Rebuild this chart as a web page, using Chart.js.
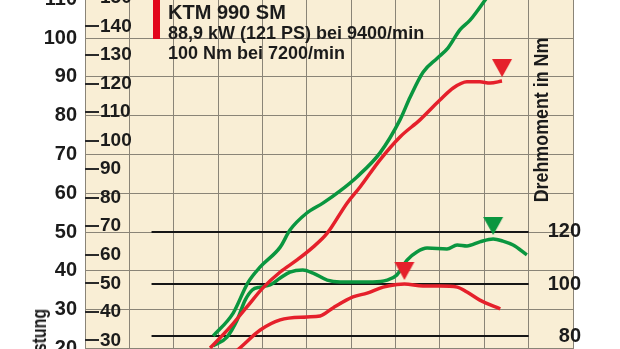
<!DOCTYPE html>
<html>
<head>
<meta charset="utf-8">
<script src="https://cdn.jsdelivr.net/npm/chart.js@4.4.1/dist/chart.umd.min.js"></script>
<style>
    html, body { margin: 0; padding: 0; background: #fff; overflow: hidden; }
    body { width: 620px; height: 349px; position: relative; color: #1b1b1b; font-weight: bold; }
    #wrap { position: absolute; left: 0; top: -20px; width: 620px; height: 408px; }
    .txt { position: absolute; white-space: nowrap; font-family: "Liberation Sans", Arial, sans-serif; }
    .vert { position: absolute; white-space: nowrap; font-family: "Liberation Sans", Arial, sans-serif; font-size: 21px; text-align: center; }
</style>
</head>
<body>
<div id="wrap"><canvas id="chart"></canvas></div>

<!-- legend -->
<div style="position:absolute; left:153px; top:0; width:7px; height:39px; background:#e2061b;"></div>
<div class="txt" style="left:168px; top:2px; font-size:20px; line-height:20px;">KTM 990 SM</div>
<div class="txt" style="left:168px; top:24px; font-size:18px; line-height:18px;">88,9 kW (121 PS) bei 9400/min</div>
<div class="txt" style="left:168px; top:44px; font-size:18px; line-height:18px;">100 Nm bei 7200/min</div>

<!-- axis titles -->
<div class="vert" style="left:441px; top:108px; width:200px; height:24px; line-height:24px; transform: rotate(-90deg) scaleX(0.85);">Drehmoment in Nm</div>
<div class="vert" style="left:-21px; top:330px; width:120px; height:24px; line-height:24px; transform: rotate(-90deg) scaleX(0.76);">Leistung</div>

<script>
// rpm range and axis ticks
const rpmMin = 0;
const rpmMax = 11000;
const kwTicks = [20, 30, 40, 50, 60, 70, 80, 90, 100, 110];
const psTicks = [20, 30, 40, 50, 60, 70, 80, 90, 100, 110, 120, 130, 140, 150];
const nmTicks = [80, 100, 120];

// visible window of the (cropped) diagram
const kwMin = 9.8, kwMax = 114.95;
const nmMin = 60, nmMax = 216.9;
const kwPerPs = 0.7355;

// KTM 990 SM (red)
const redPowerRpm = [2820, 3270, 3650, 4010, 4400, 4780, 5140, 5460, 5910, 6200, 6650, 7100, 7550, 8000, 8300, 8610, 8900, 9130, 9400];
const redPowerKw  = [20.1, 25.5, 30.7, 35.6, 39.7, 42.8, 46.1, 49.7, 57.5, 61.6, 68.6, 74.5, 78.9, 84.0, 87.1, 88.7, 88.7, 88.4, 88.9];
const redTorqueRpm = [3040, 3490, 3950, 4400, 5000, 5300, 5590, 6040, 6360, 6720, 7030, 7200, 7620, 8000, 8390, 8610, 8900, 9360];
const redTorqueNm  = [68.8, 75.4, 82.3, 86.2, 87.3, 87.7, 90.8, 95.0, 96.5, 98.8, 99.8, 100.0, 99.2, 99.2, 98.8, 96.9, 93.8, 90.4];

// comparison bike (green)
const greenPowerRpm = [2890, 3340, 3670, 3950, 4400, 4620, 5000, 5370, 5750, 6130, 6650, 7100, 7330, 7620, 7940, 8180, 8450, 8680, 9020, 9250];
const greenPowerKw  = [23.2, 29.1, 36.9, 41.0, 46.1, 50.5, 54.9, 57.5, 60.6, 64.2, 70.4, 78.9, 84.8, 91.2, 94.8, 97.4, 102.1, 104.6, 109.8, 113.5];
const greenTorqueRpm = [2890, 3200, 3430, 3610, 3770, 3950, 4170, 4400, 4620, 4910, 5140, 5460, 5750, 6490, 6810, 7030, 7260, 7480, 7710, 8160, 8390, 8610, 8900, 9200, 9420, 9650, 9960];
const greenTorqueNm  = [76.2, 79.6, 86.2, 93.8, 97.7, 98.8, 99.6, 102.3, 104.6, 105.4, 104.2, 101.5, 100.8, 100.8, 101.5, 103.5, 109.2, 112.3, 113.8, 113.5, 115.0, 114.6, 116.2, 117.3, 116.5, 115.0, 111.2];

// peak markers
const powerPeakRpm = [9400];
const powerPeakKw = [88.9];
const torquePeakRpm = [7200, 9200];
const torquePeakNm = [100, 117.3];

// torque reference lines span
const nmLineFrom = 1500;
const nmLineTo = 10000;

const RED = "#e5202b";
const GREEN = "#0a963f";
const FONT = '"Liberation Sans", Arial, sans-serif';

function points(xs, ys) {
    return xs.map((x, i) => ({ x: x, y: ys[i] }));
}

// downward triangle, apex a little above the centre of the image
function triangleImage(color) {
    const c = document.createElement("canvas");
    c.width = 22;
    c.height = 44;
    const g = c.getContext("2d");
    g.fillStyle = color;
    g.beginPath();
    g.moveTo(1, 0);
    g.lineTo(21, 0);
    g.lineTo(11, 18);
    g.closePath();
    g.fill();
    return c;
}

// fixed axis sizes, no extra label padding at the ends
function fixSize(width) {
    return s => {
        s.width = width;
        s.paddingTop = 0;
        s.paddingBottom = 0;
    };
}

const paperPlugin = {
    id: "paper",
    beforeDraw(chart) {
        const { ctx, chartArea: a } = chart;
        ctx.save();
        ctx.fillStyle = "#f9eed5";
        ctx.fillRect(a.left, a.top, a.right - a.left, a.bottom - a.top);
        ctx.restore();
    },
    beforeDatasetsDraw(chart) {
        const { ctx, chartArea: a, scales } = chart;
        ctx.save();
        // black torque lines
        ctx.strokeStyle = "#161616";
        ctx.lineWidth = 2;
        const x0 = scales.x.getPixelForValue(nmLineFrom);
        const x1 = scales.x.getPixelForValue(nmLineTo);
        nmTicks.forEach(v => {
            const y = Math.round(scales.nm.getPixelForValue(v));
            ctx.beginPath();
            ctx.moveTo(x0, y);
            ctx.lineTo(x1, y);
            ctx.stroke();
        });
        // short PS tick marks
        ctx.strokeStyle = "#2a2a2a";
        psTicks.forEach(v => {
            const y = Math.round(scales.ps.getPixelForValue(v));
            ctx.beginPath();
            ctx.moveTo(a.left, y);
            ctx.lineTo(a.left + 14, y);
            ctx.stroke();
        });
        ctx.restore();
    }
};

const lineStyle = {
    borderWidth: 3.5,
    pointRadius: 0,
    fill: false,
    cubicInterpolationMode: "monotone"
};

const ctx = document.getElementById("chart").getContext("2d");

new Chart(ctx, {
    type: "line",
    data: {
        datasets: [
            {
                label: "Leistungsspitze",
                data: points(powerPeakRpm, powerPeakKw),
                yAxisID: "kw",
                showLine: false,
                pointStyle: [triangleImage(RED)],
                pointRadius: 10
            },
            {
                label: "Drehmomentspitze",
                data: points(torquePeakRpm, torquePeakNm),
                yAxisID: "nm",
                showLine: false,
                pointStyle: [triangleImage(RED), triangleImage(GREEN)],
                pointRadius: 10
            },
            { ...lineStyle, label: "KTM 990 SM Leistung", data: points(redPowerRpm, redPowerKw), yAxisID: "kw", borderColor: RED },
            { ...lineStyle, label: "KTM 990 SM Drehmoment", data: points(redTorqueRpm, redTorqueNm), yAxisID: "nm", borderColor: RED },
            { ...lineStyle, label: "Vergleich Leistung", data: points(greenPowerRpm, greenPowerKw), yAxisID: "kw", borderColor: GREEN },
            { ...lineStyle, label: "Vergleich Drehmoment", data: points(greenTorqueRpm, greenTorqueNm), yAxisID: "nm", borderColor: GREEN }
        ]
    },
    options: {
        responsive: true,
        maintainAspectRatio: false,
        animation: false,
        events: [],
        layout: { autoPadding: false, padding: { left: 0, right: 47, top: 0, bottom: 0 } },
        plugins: {
            legend: { display: false },
            tooltip: { enabled: false }
        },
        scales: {
            x: {
                type: "linear",
                min: rpmMin,
                max: rpmMax,
                ticks: { display: false, stepSize: 1000 },
                grid: { color: "#8a8477", lineWidth: 1, drawTicks: false },
                border: { display: false },
                afterFit: s => { s.height = 0; s.paddingLeft = 0; s.paddingRight = 0; }
            },
            kw: {
                type: "linear",
                position: "left",
                weight: 1,
                min: kwMin,
                max: kwMax,
                afterBuildTicks: s => { s.ticks = kwTicks.map(v => ({ value: v })); },
                ticks: { color: "#1b1b1b", padding: 8, font: { family: FONT, size: 20, weight: "bold" } },
                grid: { color: "#8a8477", lineWidth: 1, drawTicks: false },
                border: { display: false },
                afterFit: fixSize(85)
            },
            ps: {
                type: "linear",
                position: "left",
                weight: 0,
                min: kwMin / kwPerPs,
                max: kwMax / kwPerPs,
                afterBuildTicks: s => { s.ticks = psTicks.map(v => ({ value: v })); },
                ticks: { mirror: true, color: "#1b1b1b", padding: 15, font: { family: FONT, size: 19, weight: "bold" } },
                grid: { display: false },
                border: { display: false },
                afterFit: fixSize(0)
            },
            nm: {
                type: "linear",
                position: "right",
                weight: 0,
                min: nmMin,
                max: nmMax,
                afterBuildTicks: s => { s.ticks = nmTicks.map(v => ({ value: v })); },
                ticks: { mirror: true, color: "#1b1b1b", padding: 8, font: { family: FONT, size: 20, weight: "bold" } },
                grid: { display: false },
                border: { display: false },
                afterFit: fixSize(0)
            }
        }
    },
    plugins: [paperPlugin]
});
</script>
</body>
</html>
